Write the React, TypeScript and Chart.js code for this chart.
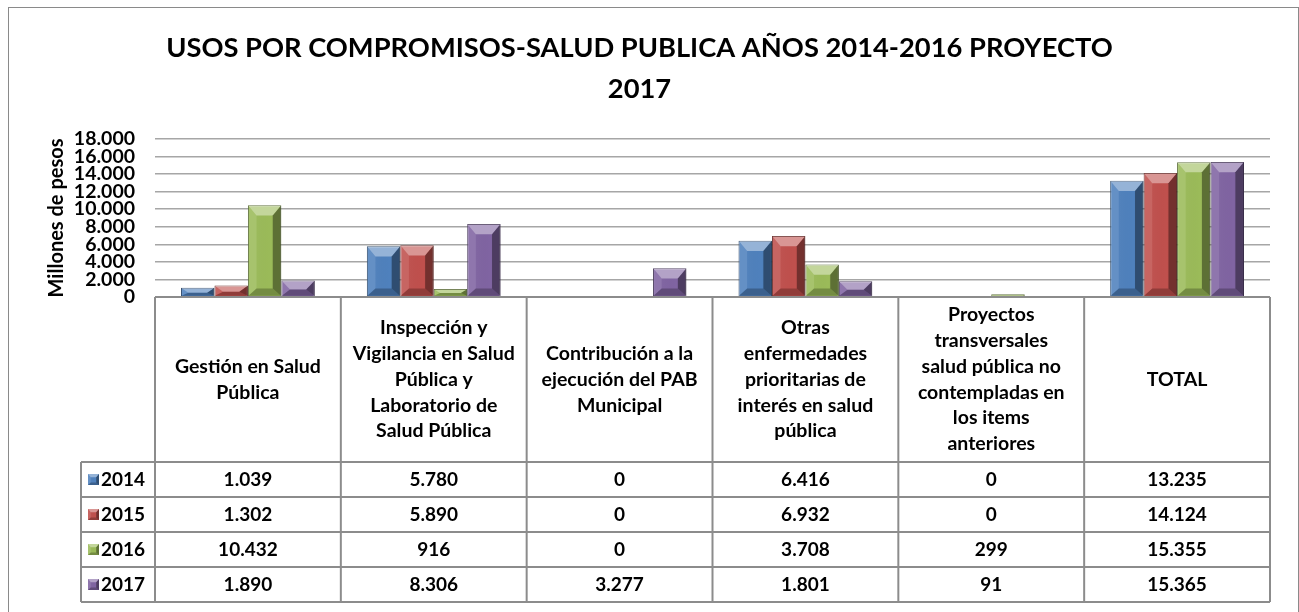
import React, { useEffect, useRef } from "react";
import { Chart, registerables } from "chart.js";
Chart.register(...registerables);

const categoryLines: string[][] = [
  ["Gestión en Salud", "Pública"],
  ["Inspección y", "Vigilancia en Salud", "Pública y", "Laboratorio de", "Salud Pública"],
  ["Contribución a la", "ejecución del PAB", "Municipal"],
  ["Otras", "enfermedades", "prioritarias de", "interés en salud", "pública"],
  ["Proyectos", "transversales", "salud pública no", "contempladas en", "los items", "anteriores"],
  ["TOTAL"],
];
const seriesNames = ["2014", "2015", "2016", "2017"];
const values2014 = [1039, 5780, 0, 6416, 0, 13235];
const values2015 = [1302, 5890, 0, 6932, 0, 14124];
const values2016 = [10432, 916, 0, 3708, 299, 15355];
const values2017 = [1890, 8306, 3277, 1801, 91, 15365];
const seriesValues = [values2014, values2015, values2016, values2017];
const seriesColors = ["#4F81BD", "#C0504D", "#9BBB59", "#8064A2"];
const titleLines = ["USOS POR COMPROMISOS-SALUD PUBLICA AÑOS 2014-2016 PROYECTO", "2017"];
const yAxisTitle = "Millones de pesos";
const yMax = 18000;
const yStep = 2000;

const FONT = "Lato";

function fmt(v: number): string {
  return String(Math.round(v)).replace(/\B(?=(\d{3})+(?!\d))/g, ".");
}

function poly(ctx: CanvasRenderingContext2D, pts: number[][], fill: string | CanvasGradient) {
  ctx.beginPath();
  ctx.moveTo(pts[0][0], pts[0][1]);
  for (let i = 1; i < pts.length; i++) ctx.lineTo(pts[i][0], pts[i][1]);
  ctx.closePath();
  ctx.fillStyle = fill;
  ctx.fill();
}

function bevel(ctx: CanvasRenderingContext2D, x0: number, y0: number, x1: number, y1: number) {
  const w = x1 - x0;
  const h = y1 - y0;
  if (h <= 0.5 || w <= 0) return;
  let dyT = w * 0.3;
  let dyB = w * 0.22;
  if (dyT + dyB > h) {
    const k = h / (dyT + dyB);
    dyT *= k;
    dyB *= k;
  }
  const dx = Math.min(w * 0.25, Math.max(dyT, dyB) * 1.6);
  const ix0 = x0 + dx, ix1 = x1 - dx, iy0 = y0 + dyT, iy1 = y1 - dyB;
  ctx.save();
  const face = ctx.createLinearGradient(x0, 0, x1, 0);
  face.addColorStop(0, "rgba(255,255,255,0.06)");
  face.addColorStop(0.7, "rgba(0,0,0,0)");
  face.addColorStop(1, "rgba(0,0,0,0.12)");
  poly(ctx, [[ix0, iy0], [ix1, iy0], [ix1, iy1], [ix0, iy1]], face);
  poly(ctx, [[x0, y0], [x1, y0], [ix1, iy0], [ix0, iy0]], "rgba(255,255,255,0.4)");
  poly(ctx, [[x0, y0], [ix0, iy0], [ix0, iy1], [x0, y1]], "rgba(255,255,255,0.12)");
  poly(ctx, [[x1, y0], [x1, y1], [ix1, iy1], [ix1, iy0]], "rgba(0,0,0,0.4)");
  poly(ctx, [[x0, y1], [ix0, iy1], [ix1, iy1], [x1, y1]], "rgba(0,0,0,0.25)");
  ctx.restore();
}

const bevelPlugin = {
  id: "bevelBars",
  afterDatasetsDraw(chart: any) {
    const ctx = chart.ctx as CanvasRenderingContext2D;
    chart.data.datasets.forEach((_: any, di: number) => {
      const meta = chart.getDatasetMeta(di);
      meta.data.forEach((el: any) => {
        const p = el.getProps(["x", "y", "base", "width"], true);
        const x0 = p.x - p.width / 2;
        const x1 = p.x + p.width / 2;
        const top = Math.min(p.y, p.base);
        const bot = Math.max(p.y, p.base);
        bevel(ctx, x0 + 0.5, top + 0.5, x1 - 0.5, bot - 0.5);
      });
    });
  },
};

const HEADER_H = 165;
const ROW_H = 35;
const LEGEND_W = 74;

const tablePlugin = {
  id: "dataTable",
  afterDraw(chart: any) {
    const ctx = chart.ctx as CanvasRenderingContext2D;
    const area = chart.chartArea;
    const xs = chart.scales.x;
    const n = categoryLines.length;
    const cw = (area.right - area.left) / n;
    const top = area.bottom;
    const headBot = top + HEADER_H;
    const bottom = headBot + ROW_H * seriesNames.length;
    const legLeft = area.left - LEGEND_W;

    ctx.save();
    ctx.strokeStyle = "#8C8C8C";
    ctx.lineWidth = 2;
    ctx.beginPath();
    ctx.moveTo(area.left, top);
    ctx.lineTo(area.right, top);
    for (let k = 0; k <= seriesNames.length; k++) {
      const y = headBot + k * ROW_H;
      ctx.moveTo(legLeft, y);
      ctx.lineTo(area.right, y);
    }
    for (let i = 0; i <= n; i++) {
      const x = i < n ? xs.getPixelForValue(i) - cw / 2 : xs.getPixelForValue(n - 1) + cw / 2;
      ctx.moveTo(x, top);
      ctx.lineTo(x, bottom);
    }
    ctx.moveTo(legLeft, headBot);
    ctx.lineTo(legLeft, bottom);
    ctx.stroke();

    ctx.fillStyle = "#000";
    ctx.textAlign = "center";
    ctx.textBaseline = "middle";
    ctx.font = `bold 19.5px ${FONT}`;
    const lh = 25.8;
    const hc = top + HEADER_H / 2;
    categoryLines.forEach((lines, i) => {
      const cx = xs.getPixelForValue(i);
      const y0 = hc - ((lines.length - 1) * lh) / 2;
      lines.forEach((ln, j) => ctx.fillText(ln, cx, y0 + j * lh));
    });

    ctx.font = `bold 19px ${FONT}`;
    seriesNames.forEach((name, s) => {
      const cy = headBot + s * ROW_H + ROW_H / 2;
      ctx.textAlign = "center";
      seriesValues[s].forEach((v, i) => {
        ctx.fillText(fmt(v), xs.getPixelForValue(i), cy);
      });
      const mx = legLeft + 7;
      const ms = 11;
      ctx.fillStyle = seriesColors[s];
      ctx.fillRect(mx, cy - ms / 2, ms, ms);
      bevel(ctx, mx, cy - ms / 2, mx + ms, cy + ms / 2);
      ctx.fillStyle = "#000";
      ctx.textAlign = "left";
      ctx.fillText(name, mx + ms + 2, cy);
    });
    ctx.restore();
  },
};

function darker(hex: string): string {
  const n = parseInt(hex.slice(1), 16);
  const r = Math.round(((n >> 16) & 255) * 0.55);
  const g = Math.round(((n >> 8) & 255) * 0.55);
  const b = Math.round((n & 255) * 0.55);
  return `rgb(${r},${g},${b})`;
}

export default function App() {
  const ref = useRef<HTMLCanvasElement | null>(null);
  useEffect(() => {
    if (!ref.current) return;
    const chart = new Chart(ref.current, {
      type: "bar",
      data: {
        labels: categoryLines.map((l) => l.join(" ")),
        datasets: seriesNames.map((name, s) => ({
          label: name,
          data: seriesValues[s],
          backgroundColor: seriesColors[s],
          borderColor: darker(seriesColors[s]),
          borderWidth: 1,
          categoryPercentage: 0.72,
          barPercentage: 1,
        })),
      },
      options: {
        responsive: false,
        animation: false,
        layout: { padding: { left: 0, right: 28, top: 0, bottom: 315 } },
        plugins: {
          legend: { display: false },
          tooltip: { enabled: false },
          title: {
            display: true,
            text: titleLines,
            color: "#000",
            font: { family: FONT, size: 27.3, weight: "bold", lineHeight: 1.5 },
            padding: { top: 19.5, bottom: 29.5 },
          },
        },
        scales: {
          x: { display: false },
          y: {
            min: 0,
            max: yMax,
            afterFit: (scale: any) => {
              scale.width = 146;
            },
            border: { display: false },
            grid: { color: "#A6A6A6", lineWidth: 1.5, drawTicks: false },
            ticks: {
              stepSize: yStep,
              autoSkip: false,
              padding: 20,
              color: "#000",
              font: { family: FONT, size: 19.5, weight: "bold", lineHeight: 1 },
              callback: (v: any) => fmt(Number(v)),
            },
            title: {
              display: true,
              text: yAxisTitle,
              color: "#000",
              font: { family: FONT, size: 20, weight: "bold", lineHeight: 1.2 },
              padding: { top: 36, bottom: 0 },
            },
          },
        },
      },
      plugins: [bevelPlugin, tablePlugin],
    } as any);
    return () => chart.destroy();
  }, []);
  return (
    <div
      style={{
        position: "fixed",
        left: 8,
        top: 7,
        width: 1289,
        height: 604,
        borderTop: "1px solid #8A8A8A",
        borderLeft: "1px solid #8A8A8A",
        borderRight: "1px solid #8A8A8A",
        background: "#fff",
      }}
    >
      <canvas ref={ref} width={1289} height={604} style={{ display: "block" }} />
    </div>
  );
}
